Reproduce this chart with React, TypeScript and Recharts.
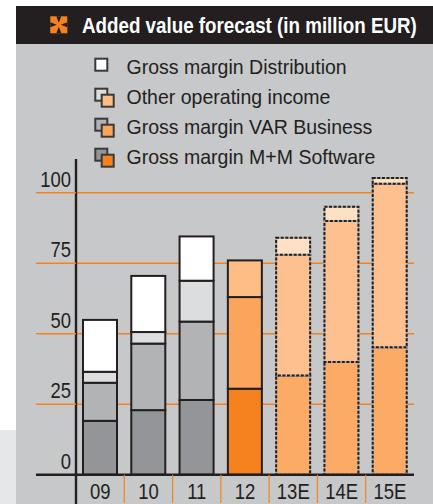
import { Bar, BarChart, CartesianGrid, XAxis, YAxis } from "recharts"

const years = ["09", "10", "11", "12", "13E", "14E", "15E"]
const mmSoftware = [19.1, 22.9, 26.5, 30.5, 35.2, 40, 45.2]
const varBusiness = [13.5, 23.6, 27.8, 32.5, 42.8, 50, 58]
const otherIncome = [3.9, 4.1, 14.5, 13, 6, 5, 2]
const distribution = [18.4, 19.9, 15.7, 0, 0, 0, 0]
const yTicks = [0, 25, 50, 75, 100]

const legendNames = ["Gross margin Distribution", "Other operating income", "Gross margin VAR Business", "Gross margin M+M Software"]
const legendBack = ["", "#dcddde", "#b1b3b5", "#939598"]
const legendFront = ["#ffffff", "#fdbd85", "#fba45c", "#f6821f"]

const mmColors = ["#939598", "#939598", "#939598", "#f6821f", "#fbab66", "#fbab66", "#fbab66"]
const varColors = ["#b1b3b5", "#b1b3b5", "#b1b3b5", "#fba45c", "#fdc08e", "#fdc08e", "#fdc08e"]
const otherColors = ["#dcddde", "#dcddde", "#dcddde", "#fdbd85", "#fee0c4", "#fee0c4", "#fee0c4"]
const distColors = ["#ffffff", "#ffffff", "#ffffff", "#ffffff", "#ffffff", "#ffffff", "#ffffff"]

const data = years.map((year, i) => ({
  year,
  mm: mmSoftware[i],
  var: varBusiness[i],
  other: otherIncome[i],
  dist: distribution[i],
}))

const font = "'Liberation Sans', sans-serif"
const orange = "#f58220"
const ink = "#231f20"

// dashed outline for the forecast years, solid for the rest
function segment(colors: string[]) {
  return (props: any) => {
    const { x, y, width, height, index } = props
    if (!height) return <g />
    const forecast = index > 3
    return (
      <g>
        <rect x={x} y={y} width={width} height={height} fill={colors[index]} stroke={forecast ? "#b5b0aa" : ink} strokeWidth={2} />
        {forecast && <rect x={x} y={y} width={width} height={height} fill="none" stroke={ink} strokeWidth={2} strokeDasharray="3 1.6" />}
      </g>
    )
  }
}

// no narrow face is installed, so squeeze the regular one
function NarrowText({ x, y, size, sx, anchor, fill, weight, children }: any) {
  return (
    <text transform={`translate(${x} ${y}) scale(${sx} 1)`} textAnchor={anchor} fontFamily={font} fontSize={size} fontWeight={weight} fill={fill}>
      {children}
    </text>
  )
}

function YTick(props: any) {
  const { x, y, payload } = props
  return (
    <g>
      <line x1={x - 40} x2={x} y1={y} y2={y} stroke={payload.value === 0 ? ink : orange} strokeWidth={payload.value === 0 ? 2.4 : 1.4} />
      <NarrowText x={x - 5} y={y - 6} size={22} sx={0.84} anchor="end" fill={ink}>
        {payload.value}
      </NarrowText>
    </g>
  )
}

function XTick(props: any) {
  const { x, y, payload, index } = props
  return (
    <g>
      {index === 0 && <line x1={x - 24.15} x2={x - 24.15} y1={y - 1} y2={504} stroke={ink} strokeWidth={2.4} />}
      {index < years.length - 1 && <line x1={x + 24.15} x2={x + 24.15} y1={y} y2={503} stroke={orange} strokeWidth={1.2} />}
      <NarrowText x={x} y={y + 24} size={22} sx={0.84} anchor="middle" fill={ink}>
        {payload.value}
      </NarrowText>
    </g>
  )
}

function LegendIcon({ i }: { i: number }) {
  const y = 55 + i * 30
  const stroke = "#3a393b"
  return (
    <g strokeWidth={2} stroke={stroke}>
      {legendBack[i] ? (
        <>
          <rect x={95.3} y={y + 3.7} width={12} height={12} fill={legendBack[i]} />
          <rect x={101.7} y={y + 9.7} width={12} height={12} fill={legendFront[i]} />
        </>
      ) : (
        <rect x={95.3} y={y + 3.7} width={12} height={12} fill={legendFront[i]} />
      )}
    </g>
  )
}

export default function App() {
  return (
    <div style={{ position: "absolute", left: 0, top: 0, width: 433, height: 504, overflow: "hidden", background: "#fff" }}>
      <div style={{ position: "absolute", left: 0, top: 430, width: 16, height: 74, background: "#e6e7e8" }} />
      <div style={{ position: "absolute", left: 16, top: 44, width: 417, height: 460, background: "#c7c8ca" }} />
      <div style={{ position: "absolute", left: 16, top: 6, width: 417, height: 38, background: ink }} />
      <svg width={433} height={180} style={{ position: "absolute", left: 0, top: 0 }}>
        <g transform="translate(50.3 16.3)">
          <rect width={17} height={17} fill={orange} />
          <path d="M6 0H11L8.5 6.5ZM6 17H11L8.5 10.5ZM0 6V11L6.5 8.5ZM17 6V11L10.5 8.5Z" fill={ink} />
        </g>
        <NarrowText x={82} y={33} size={22} sx={0.854} anchor="start" fill="#ffffff" weight={700}>
          Added value forecast (in million EUR)
        </NarrowText>
        {legendNames.map((name, i) => (
          <g key={name}>
            <LegendIcon i={i} />
            <NarrowText x={126.5} y={74 + i * 30} size={21} sx={0.93} anchor="start" fill={ink}>
              {name}
            </NarrowText>
          </g>
        ))}
      </svg>
      <div style={{ position: "absolute", left: 0, top: 0 }}>
        <BarChart width={433} height={504} data={data} barSize={34} margin={{ top: 158.9, right: 19, bottom: 0, left: 36 }}>
          <CartesianGrid vertical={false} stroke={orange} strokeWidth={1.4} horizontalValues={yTicks} />
          <XAxis dataKey="year" axisLine={{ stroke: ink, strokeWidth: 2.4 }} tickLine={false} tickSize={0} tickMargin={0} tick={<XTick />} height={29.3} interval={0} />
          <YAxis domain={[0, 112]} ticks={yTicks} width={40} axisLine={{ stroke: ink, strokeWidth: 2.4 }} tickLine={false} tickSize={0} tickMargin={0} tick={<YTick />} />
          <Bar dataKey="mm" stackId="a" isAnimationActive={false} shape={segment(mmColors)} />
          <Bar dataKey="var" stackId="a" isAnimationActive={false} shape={segment(varColors)} />
          <Bar dataKey="other" stackId="a" isAnimationActive={false} shape={segment(otherColors)} />
          <Bar dataKey="dist" stackId="a" isAnimationActive={false} shape={segment(distColors)} />
        </BarChart>
      </div>
    </div>
  )
}
